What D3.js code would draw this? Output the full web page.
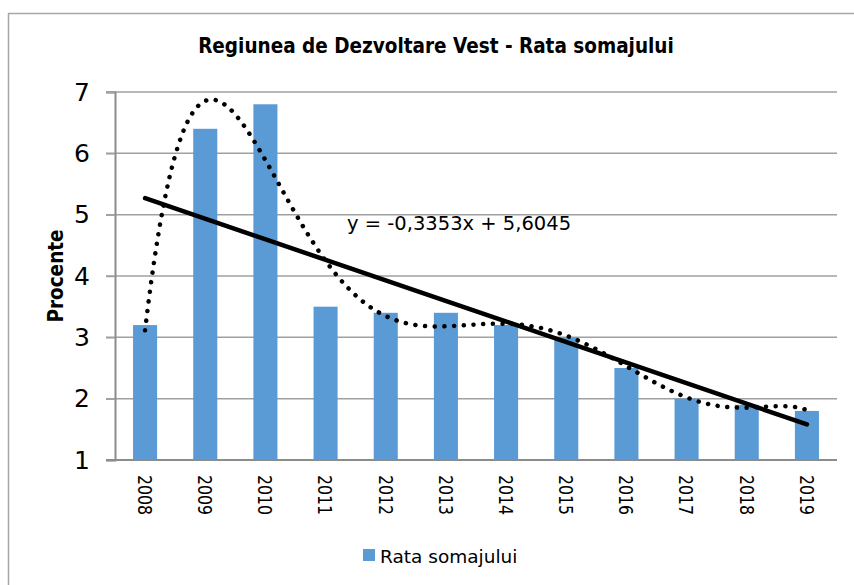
<!DOCTYPE html>
<html lang="ro">
<head>
    <meta charset="UTF-8">
    <title>Regiunea de Dezvoltare Vest - Rata somajului</title>
    <script src="https://cdn.jsdelivr.net/npm/d3@7"></script>
    <style>
        body { margin: 0; background: #fff; }
        text { font-family: "DejaVu Sans", Verdana, sans-serif; fill: #000; }
    </style>
</head>
<body>
<div id="chart"></div>
<script>
    // date
    const years = ["2008", "2009", "2010", "2011", "2012", "2013", "2014", "2015", "2016", "2017", "2018", "2019"];
    const rata = [3.2, 6.4, 6.8, 3.5, 3.4, 3.4, 3.2, 3.0, 2.5, 2.0, 1.9, 1.8];
    const yTicks = [1, 2, 3, 4, 5, 6, 7];
    const trendSlope = -0.3353;
    const trendIntercept = 5.6045;
    const polyOrder = 6;

    const W = 854, H = 585;
    const plot = {left: 115, right: 837, top: 92, bottom: 460};

    const svg = d3.select("#chart").append("svg")
        .attr("width", W)
        .attr("height", H);

    svg.append("rect")
        .attr("x", 8.5).attr("y", 13.5)
        .attr("width", W + 10).attr("height", H + 10)
        .attr("fill", "#fff")
        .attr("stroke", "#a6a6a6")
        .attr("stroke-width", 1.5);

    const x = d3.scaleBand()
        .domain(years)
        .range([plot.left, plot.right])
        .paddingInner(0.6)
        .paddingOuter(0.3);

    const y = d3.scaleLinear()
        .domain([1, 7])
        .range([plot.bottom, plot.top]);

    // pozitia x pentru trendline (x = 1..12)
    const xt = d3.scaleLinear()
        .domain([1, years.length])
        .range([x(years[0]) + x.bandwidth() / 2, x(years[years.length - 1]) + x.bandwidth() / 2]);

    // gridlines
    svg.append("g")
        .selectAll("line")
        .data(yTicks.filter(d => d > 1))
        .enter().append("line")
        .attr("x1", plot.left - 9)
        .attr("x2", plot.right)
        .attr("y1", d => y(d))
        .attr("y2", d => y(d))
        .attr("stroke", "#a0a0a0")
        .attr("stroke-width", 1.5);

    // y axis
    const yAxis = svg.append("g")
        .attr("transform", `translate(${plot.left},0)`)
        .call(d3.axisLeft(y).tickValues(yTicks).tickSize(9).tickPadding(16).tickFormat(d3.format("d")));
    yAxis.select(".domain").attr("stroke", "#8c8c8c").attr("stroke-width", 2);
    yAxis.selectAll(".tick line").attr("stroke", "#a0a0a0").attr("stroke-width", 1.5);
    yAxis.selectAll(".tick text")
        .style("font-family", "DejaVu Sans")
        .style("font-size", "25px")
        .attr("fill", "#000");

    // bars
    svg.append("g")
        .selectAll("rect")
        .data(rata)
        .enter().append("rect")
        .attr("x", (d, i) => x(years[i]))
        .attr("y", d => y(d))
        .attr("width", x.bandwidth())
        .attr("height", d => y(1) - y(d))
        .attr("fill", "#5b9bd5");

    // x axis
    const xAxis = svg.append("g")
        .attr("transform", `translate(0,${plot.bottom})`)
        .call(d3.axisBottom(x).tickSize(0).tickPadding(0));
    xAxis.select(".domain").remove();
    xAxis.append("line")
        .attr("x1", plot.left - 9).attr("x2", plot.right)
        .attr("stroke", "#8c8c8c").attr("stroke-width", 2);
    xAxis.selectAll(".tick text")
        .attr("transform", "rotate(90)")
        .attr("x", 15)
        .attr("y", 0)
        .attr("dy", "0.36em")
        .attr("text-anchor", "start")
        .attr("textLength", 40)
        .attr("lengthAdjust", "spacingAndGlyphs")
        .style("font-family", "DejaVu Sans")
        .style("font-size", "20px")
        .attr("fill", "#000");

    // polinomial trendline (ordin 6, cele mai mici patrate)
    function polyFit(xs, ys, order) {
        const n = order + 1;
        const c = (xs[0] + xs[xs.length - 1]) / 2, s = (xs[xs.length - 1] - xs[0]) / 2;
        const A = Array.from({length: n}, () => new Array(n + 1).fill(0));
        xs.forEach((xv, k) => {
            const t = (xv - c) / s;
            const p = [];
            for (let i = 0; i < n; i++) p.push(Math.pow(t, i));
            for (let i = 0; i < n; i++) {
                for (let j = 0; j < n; j++) A[i][j] += p[i] * p[j];
                A[i][n] += p[i] * ys[k];
            }
        });
        for (let i = 0; i < n; i++) {
            let m = i;
            for (let r = i + 1; r < n; r++) if (Math.abs(A[r][i]) > Math.abs(A[m][i])) m = r;
            [A[i], A[m]] = [A[m], A[i]];
            for (let r = 0; r < n; r++) {
                if (r === i) continue;
                const f = A[r][i] / A[i][i];
                for (let j = i; j <= n; j++) A[r][j] -= f * A[i][j];
            }
        }
        const coef = A.map((row, i) => row[n] / row[i]);
        return xv => {
            const t = (xv - c) / s;
            return coef.reduce((acc, a, i) => acc + a * Math.pow(t, i), 0);
        };
    }

    const xs = rata.map((d, i) => i + 1);
    const poly = polyFit(xs, rata, polyOrder);
    const curveX = d3.range(1, years.length + 0.001, 0.05);

    svg.append("path")
        .datum(curveX)
        .attr("d", d3.line().x(d => xt(d)).y(d => y(poly(d))))
        .attr("fill", "none")
        .attr("stroke", "#000")
        .attr("stroke-width", 4.5)
        .attr("stroke-linecap", "round")
        .attr("stroke-dasharray", "0.1 9.6");

    // linear trendline
    svg.append("line")
        .attr("x1", xt(1))
        .attr("y1", y(trendSlope * 1 + trendIntercept))
        .attr("x2", xt(years.length))
        .attr("y2", y(trendSlope * years.length + trendIntercept))
        .attr("stroke", "#000")
        .attr("stroke-width", 4.5)
        .attr("stroke-linecap", "round");

    svg.append("text")
        .attr("x", 347)
        .attr("y", 230)
        .style("font-size", "19.5px")
        .text("y = -0,3353x + 5,6045");

    // titles
    svg.append("text")
        .attr("x", 436)
        .attr("y", 53)
        .attr("text-anchor", "middle")
        .style("font-family", "DejaVu Sans Condensed")
        .style("font-weight", "bold")
        .style("font-size", "20.5px")
        .text("Regiunea de Dezvoltare Vest - Rata somajului");

    svg.append("text")
        .attr("transform", "translate(63,276) rotate(-90)")
        .attr("text-anchor", "middle")
        .style("font-family", "DejaVu Sans Condensed")
        .style("font-weight", "bold")
        .style("font-size", "20.5px")
        .text("Procente");

    // legend
    const legend = svg.append("g").attr("transform", "translate(363,549)");
    legend.append("rect")
        .attr("width", 12).attr("height", 12)
        .attr("fill", "#5b9bd5");
    legend.append("text")
        .attr("x", 17)
        .attr("y", 14)
        .style("font-size", "18.5px")
        .text("Rata somajului");
</script>
</body>
</html>
